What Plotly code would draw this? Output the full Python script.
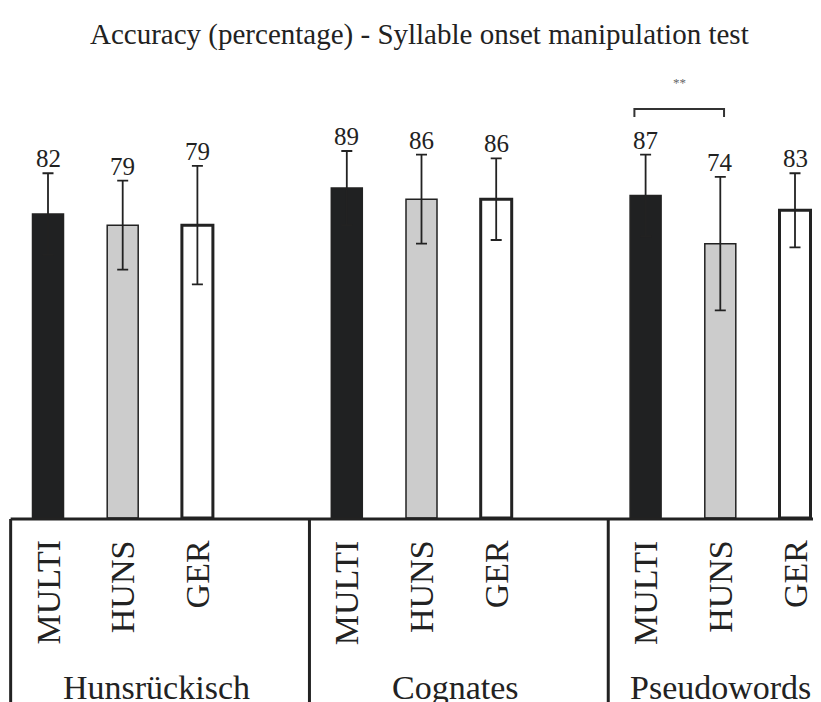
import plotly.graph_objects as go

groups = ["Hunsrückisch", "Cognates", "Pseudowords"]
series = ["MULTI", "HUNS", "GER"]
multi_vals = [82, 89, 87]
huns_vals = [79, 86, 74]
ger_vals = [79, 86, 83]
multi_err = [11, 10, 11]
huns_err = [12, 12, 18]
ger_err = [16, 11, 10]
title_text = "Accuracy (percentage) - Syllable onset manipulation test"
sig_label = "**"

values = [multi_vals, huns_vals, ger_vals]
errors = [multi_err, huns_err, ger_err]
fills = ["#202122", "#cccccc", "#ffffff"]
line_w = [1.5, 1.5, 3]
FONT = "Liberation Serif"
INK = "#222222"

# page offset (body margin) and geometry in screen pixels
OFF = 8
W, H = 821 - OFF, 702 - OFF
base_px = 518 - OFF
px_per_unit = 3.707
unit_px = 74.7
first_bar_px = 48 - OFF
y_top = base_px / px_per_unit
x0 = -first_bar_px / unit_px
x1 = (W - first_bar_px) / unit_px


def py(p):
    """screen pixel row -> paper y"""
    return (base_px - (p - OFF)) / base_px


fig = go.Figure()
for i, s in enumerate(series):
    xs = [4 * g + i for g in range(len(groups))]
    fig.add_trace(go.Bar(
        x=xs, y=values[i], width=0.415, name=s,
        marker=dict(color=fills[i], line=dict(color=INK, width=line_w[i])),
        error_y=dict(type="data", array=errors[i], visible=True,
                     color=INK, thickness=1.8, width=5.5),
        showlegend=False,
    ))

annotations = []
for i, s in enumerate(series):
    for g in range(len(groups)):
        x = 4 * g + i
        annotations.append(dict(
            x=x, y=values[i][g] + errors[i][g], xref="x", yref="y",
            text=str(values[i][g]), showarrow=False, yanchor="bottom",
            yshift=-1, font=dict(family=FONT, size=25, color=INK)))
        annotations.append(dict(
            x=x, y=py(538), xref="x", yref="paper", text=s, textangle=-90,
            showarrow=False, yanchor="top", xanchor="center",
            font=dict(family=FONT, size=34, color=INK)))

group_x = [1.45, 5.45, 9.0]
for g, name in enumerate(groups):
    annotations.append(dict(
        x=group_x[g], y=py(687), xref="x", yref="paper", text=name,
        showarrow=False, yanchor="middle",
        font=dict(family=FONT, size=34, color=INK)))

annotations.append(dict(
    x=(419 - OFF) / W, y=py(34), xref="paper", yref="paper", text=title_text,
    showarrow=False, yanchor="middle",
    font=dict(family=FONT, size=29, color=INK)))

annotations.append(dict(
    x=8.45, y=117.5, xref="x", yref="y", text=sig_label, showarrow=False,
    yanchor="middle", font=dict(family=FONT, size=13, color="#666666")))

shapes = []
# significance bracket
shapes.append(dict(type="path", xref="x", yref="y",
                   path="M 7.85 108.2 L 7.85 110.3 L 9.05 110.3 L 9.05 108.2",
                   line=dict(color="#333333", width=2)))
# table lines
shapes.append(dict(type="line", xref="x", yref="paper", x0=-0.5, x1=x1,
                   y0=py(519), y1=py(519), line=dict(color=INK, width=3)))
for xv in [-0.5, 3.5, 7.5]:
    shapes.append(dict(type="line", xref="x", yref="paper", x0=xv, x1=xv,
                       y0=py(519), y1=py(712), line=dict(color=INK, width=3)))

fig.update_layout(
    width=W, height=H,
    margin=dict(l=0, r=0, t=0, b=H - base_px),
    plot_bgcolor="white", paper_bgcolor="white",
    barmode="overlay",
    xaxis=dict(range=[x0, x1], visible=False, fixedrange=True),
    yaxis=dict(range=[0, y_top], visible=False, fixedrange=True),
    annotations=annotations, shapes=shapes,
)

fig.write_html("out.html")
